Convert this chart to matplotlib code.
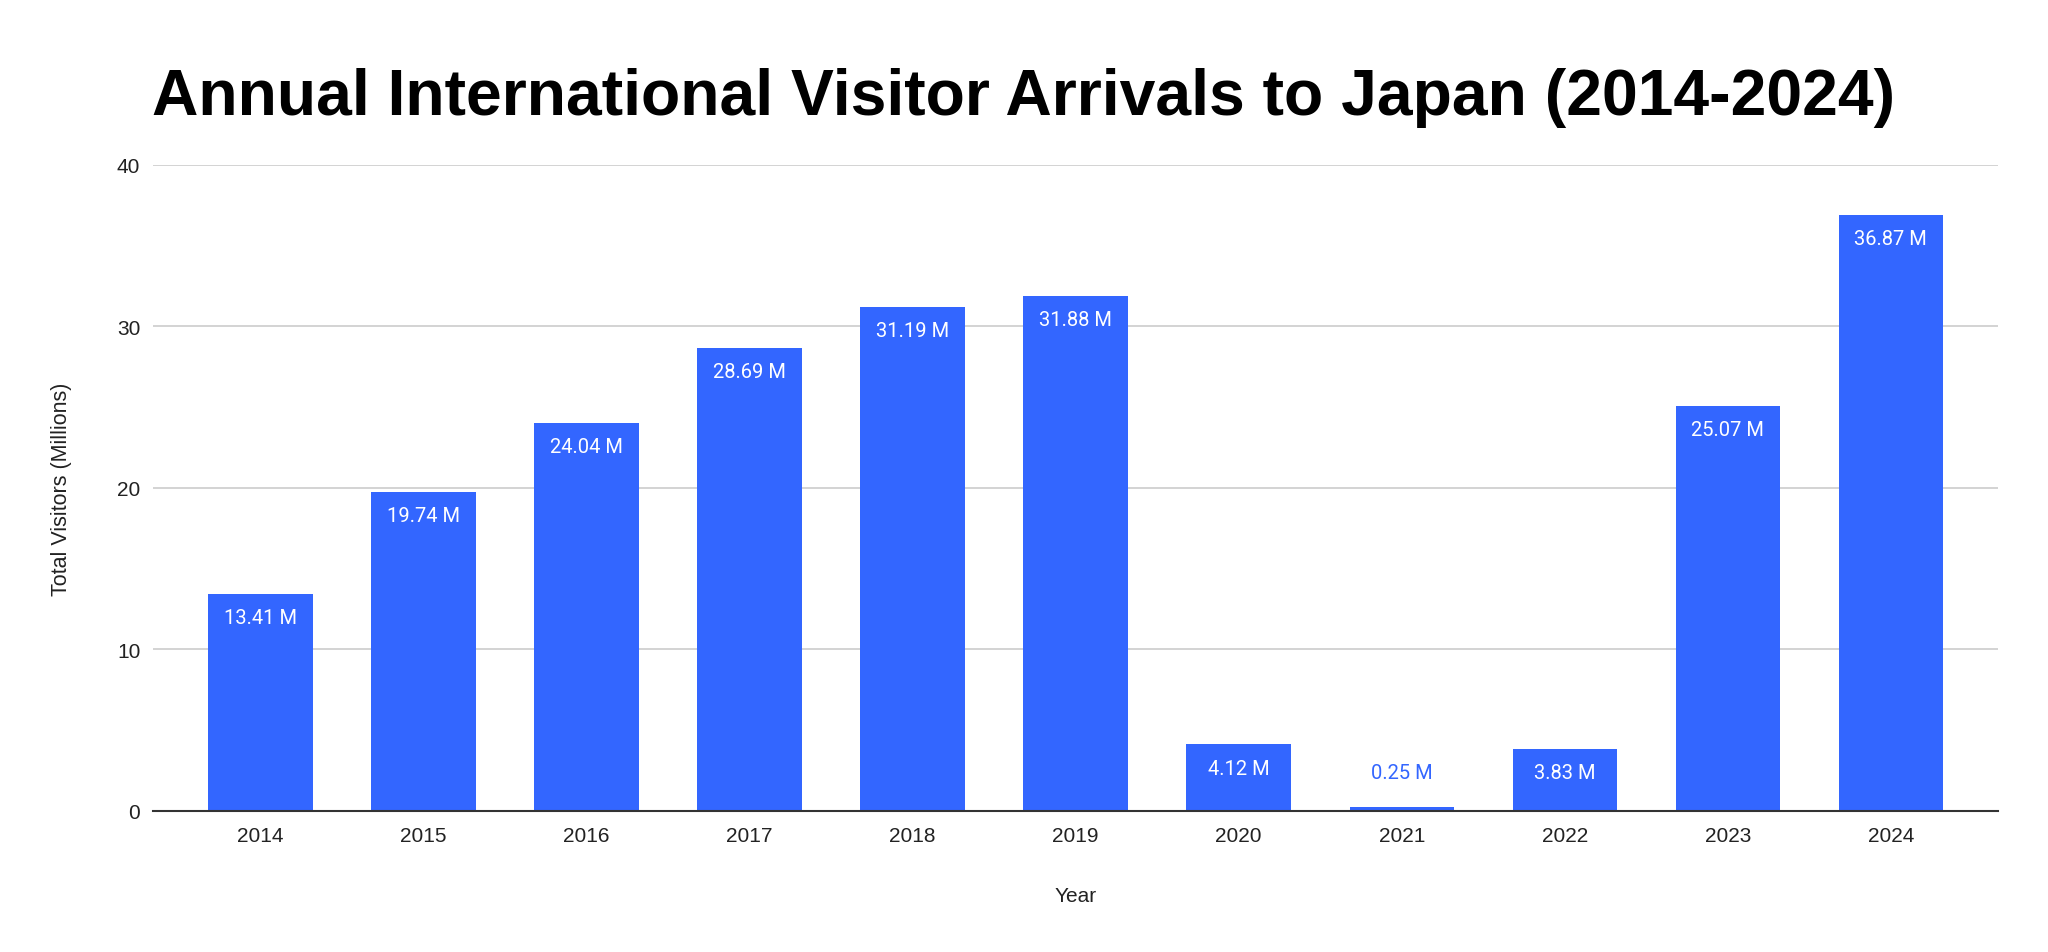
import matplotlib
matplotlib.use("Agg")
import matplotlib.pyplot as plt

years = ["2014", "2015", "2016", "2017", "2018", "2019", "2020", "2021", "2022", "2023", "2024"]
visitors = [13.41, 19.74, 24.04, 28.69, 31.19, 31.88, 4.12, 0.25, 3.83, 25.07, 36.87]
yticks = [0, 10, 20, 30, 40]

bar_color = "#3366ff"
axis_font = ["Liberation Sans", "DejaVu Sans"]
plt.rcParams["font.family"] = ["Roboto", "DejaVu Sans"]

fig = plt.figure(figsize=(20.48, 9.53), dpi=100)
ax = fig.add_axes([0.0746, 0.148, 0.9012, 0.678])

x = list(range(len(years)))
bars = ax.bar(x, visitors, width=0.64, color=bar_color, zorder=3)

for xi, v in zip(x, visitors):
    label = f"{v:.2f} M"
    if v > 2:
        ax.annotate(label, (xi, v), xytext=(0, -17), textcoords="offset points",
                    ha="center", va="center", color="white", fontsize=14.5, zorder=4)
    else:
        ax.annotate(label, (xi, v), xytext=(0, 25), textcoords="offset points",
                    ha="center", va="center", color=bar_color, fontsize=14.5, zorder=4)

ax.set_xlim(-0.66, len(years) - 1 + 0.66)
ax.set_ylim(0, 40)
ax.set_xticks(x)
ax.set_xticklabels(years, fontsize=15, family=axis_font)
ax.set_yticks(yticks)
ax.set_yticklabels([str(t) for t in yticks], fontsize=15, family=axis_font)
ax.tick_params(axis="both", length=0, colors="#222222")
ax.tick_params(axis="x", pad=11)
ax.tick_params(axis="y", pad=9)

ax.yaxis.grid(True, color="#cccccc", linewidth=1.2, zorder=0)
for s in ["top", "right", "left"]:
    ax.spines[s].set_visible(False)
ax.spines["bottom"].set_color("#333333")
ax.spines["bottom"].set_linewidth(1.5)
ax.spines["bottom"].set_zorder(5)

ax.set_xlabel("Year", fontsize=15, labelpad=29, color="#222222", family=axis_font)
ax.set_ylabel("Total Visitors (Millions)", fontsize=15.5, labelpad=32, color="#222222",
              family=axis_font)

fig.text(0.5, 0.897, "Annual International Visitor Arrivals to Japan (2014-2024)",
         ha="center", va="center", fontsize=46.3, fontweight="bold",
         family=["Liberation Sans", "DejaVu Sans"])

fig.savefig("out.png", dpi=100)
